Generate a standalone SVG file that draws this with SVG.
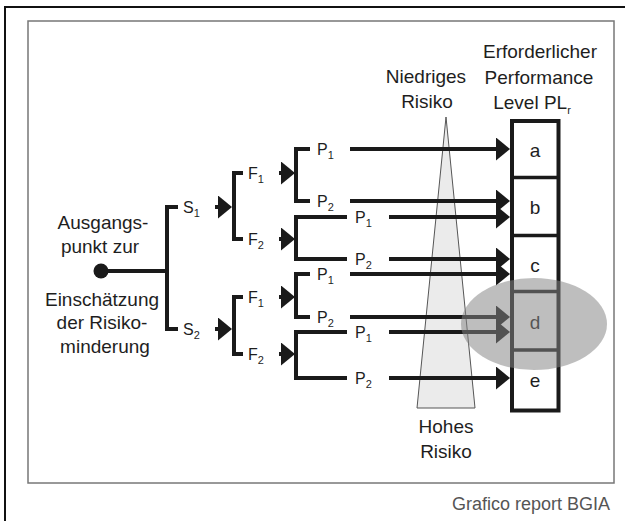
<svg xmlns="http://www.w3.org/2000/svg" width="625" height="521" viewBox="0 0 625 521">
<style>
.t{font-family:"Liberation Sans",Arial,sans-serif;fill:#1e1e1e}
.big{font-size:19px}
.lab{font-size:16px}
.sub{font-size:11px}
.ln{fill:none;stroke:#1a1a1a;stroke-width:4;stroke-linejoin:miter}
.ar{fill:none;stroke:#1a1a1a;stroke-width:4;marker-end:url(#ah)}
</style>
<defs>
<marker id="ah" viewBox="0 0 14 23" refX="4" refY="11.5" markerWidth="14" markerHeight="23" markerUnits="userSpaceOnUse" orient="auto">
<path d="M0,0 L14,11.5 L0,23 Z" fill="#1a1a1a"/>
</marker>
</defs>
<rect width="625" height="521" fill="#fff"/>
<g id="frame">
<path d="M5,530 V7 H640" fill="none" stroke="#111" stroke-width="2"/>
<rect x="28" y="21" width="586" height="462" fill="none" stroke="#777" stroke-width="1.5"/>
</g>
<g id="cone">
<polygon points="446,117 475,408 417,408" fill="#ebebeb" stroke="#555" stroke-width="1"/>
<text class="t big" x="426" y="83" text-anchor="middle">Niedriges</text>
<text class="t big" x="427" y="108" text-anchor="middle">Risiko</text>
<text class="t big" x="446" y="433" text-anchor="middle">Hohes</text>
<text class="t big" x="446" y="458" text-anchor="middle">Risiko</text>
</g>
<g id="start">
<circle cx="101" cy="271" r="7.5" fill="#1a1a1a"/>
<text class="t big" x="103" y="229" text-anchor="middle">Ausgangs-</text>
<text class="t big" x="100" y="253" text-anchor="middle">punkt zur</text>
<text class="t big" x="102" y="306" text-anchor="middle">Einschätzung</text>
<text class="t big" x="102" y="329" text-anchor="middle">der Risiko-</text>
<text class="t big" x="105" y="353" text-anchor="middle">minderung</text>
</g>
<g id="connectors">
<path class="ln" d="M101,271 H167" stroke-width="5"/>
<path class="ln" d="M178,207 H167 V329 H178"/>
<path class="ar" d="M215,207 H222"/>
<path class="ar" d="M215,329 H222"/>
<path class="ln" d="M243,173 H234 V239 H243"/>
<path class="ln" d="M243,297 H234 V354 H243"/>
<path class="ar" d="M279,173 H285"/>
<path class="ar" d="M279,239 H285"/>
<path class="ar" d="M279,297 H285"/>
<path class="ar" d="M279,354 H285"/>
<path class="ln" d="M310,149 H296 V201 H310"/>
<path class="ln" d="M347,217 H296 V259 H347"/>
<path class="ln" d="M310,274 H296 V317 H310"/>
<path class="ln" d="M347,332 H296 V378 H347"/>
<path class="ar" d="M350,149 H500"/>
<path class="ar" d="M350,201 H500"/>
<path class="ar" d="M389,217 H500"/>
<path class="ar" d="M389,259 H500"/>
<path class="ar" d="M350,274 H500"/>
<path class="ar" d="M350,317 H500"/>
<path class="ar" d="M389,332 H500"/>
<path class="ar" d="M389,378 H500"/>
</g>
<g id="labels">
<text class="t lab" x="183" y="213">S<tspan class="sub" dy="4">1</tspan></text>
<text class="t lab" x="183" y="335">S<tspan class="sub" dy="4">2</tspan></text>
<text class="t lab" x="248" y="179">F<tspan class="sub" dy="4">1</tspan></text>
<text class="t lab" x="248" y="245">F<tspan class="sub" dy="4">2</tspan></text>
<text class="t lab" x="248" y="303">F<tspan class="sub" dy="4">1</tspan></text>
<text class="t lab" x="248" y="360">F<tspan class="sub" dy="4">2</tspan></text>
<text class="t lab" x="317" y="155">P<tspan class="sub" dy="4">1</tspan></text>
<text class="t lab" x="317" y="207">P<tspan class="sub" dy="4">2</tspan></text>
<text class="t lab" x="355" y="223">P<tspan class="sub" dy="4">1</tspan></text>
<text class="t lab" x="355" y="265">P<tspan class="sub" dy="4">2</tspan></text>
<text class="t lab" x="317" y="280">P<tspan class="sub" dy="4">1</tspan></text>
<text class="t lab" x="317" y="323">P<tspan class="sub" dy="4">2</tspan></text>
<text class="t lab" x="355" y="338">P<tspan class="sub" dy="4">1</tspan></text>
<text class="t lab" x="355" y="384">P<tspan class="sub" dy="4">2</tspan></text>
</g>
<g id="pl-box">
<text class="t big" x="540" y="58" text-anchor="middle">Erforderlicher</text>
<text class="t big" x="539" y="84" text-anchor="middle">Performance</text>
<text class="t big" x="532" y="109" text-anchor="middle">Level PL<tspan class="sub" font-size="12" dy="5">r</tspan></text>
<rect x="512" y="121" width="46.5" height="289.5" fill="#fff" stroke="#1a1a1a" stroke-width="4"/>
<path d="M512,177.5 H558.5 M512,235.5 H558.5 M512,291.5 H558.5 M512,350 H558.5" stroke="#1a1a1a" stroke-width="3.5"/>
<text class="t big" x="535" y="157" text-anchor="middle">a</text>
<text class="t big" x="535" y="214" text-anchor="middle">b</text>
<text class="t big" x="535" y="272" text-anchor="middle">c</text>
<text class="t big" x="535" y="329" text-anchor="middle">d</text>
<text class="t big" x="535" y="387" text-anchor="middle">e</text>
</g>
<g id="highlight">
<ellipse cx="534" cy="324" rx="73" ry="46" fill="#848484" fill-opacity="0.53"/>
</g>
<text x="610" y="510" text-anchor="end" font-family="Liberation Sans, Arial, sans-serif" font-size="18" fill="#555">Grafico report BGIA</text>
</svg>
